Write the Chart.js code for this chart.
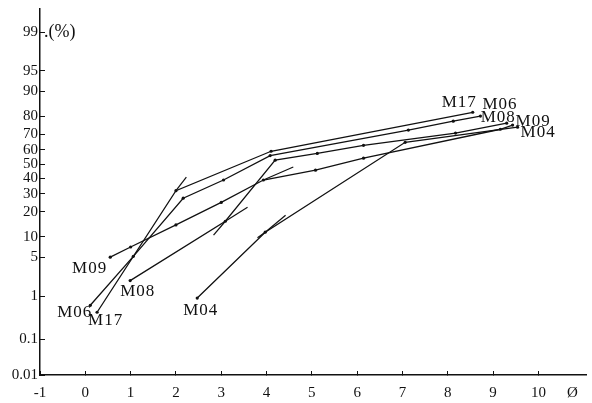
<!DOCTYPE html>
<html>
<head>
<meta charset="utf-8">
<script src="https://cdn.jsdelivr.net/npm/chart.js@4.4.1/dist/chart.umd.min.js"></script>
<style>
  html, body { margin: 0; padding: 0; background: #fff; }
  #wrap { width: 592px; height: 403px; }
</style>
</head>
<body>
<div id="wrap"><canvas id="grainChart"></canvas></div>
<script>
// valores (phi, % acumulado)
const xTicks = [-1, 0, 1, 2, 3, 4, 5, 6, 7, 8, 9, 10];
const yTicks = [0.01, 0.1, 1, 5, 10, 20, 30, 40, 50, 60, 70, 80, 90, 95, 99];

const m17Phi = [0.26, 2.0, 4.1, 8.55];
const m17Pct = [0.45, 32, 59, 82];
const m06Phi = [0.11, 1.06, 2.16, 3.05, 4.08, 7.13, 8.12, 8.72];
const m06Pct = [0.64, 5.2, 27.4, 39, 56, 72.6, 77.6, 80.2];
const m08Phi = [0.99, 3.09, 4.19, 5.12, 6.14, 8.17, 9.3];
const m08Pct = [2.0, 15.7, 52.8, 57.5, 63, 70.8, 76.5];
const m09Phi = [0.55, 1.0, 2.0, 3.0, 3.93, 5.08, 6.14, 9.16, 9.43];
const m09Pct = [5.05, 7.2, 14.2, 25, 39, 45.8, 54.2, 73.1, 75.5];
const m04Phi = [2.47, 3.97, 7.06, 9.54];
const m04Pct = [0.91, 11.5, 65, 74.3];

// prolongaciones de los tramos rectos
const extPhi = [[2.0, 2.23], [3.09, 3.58], [2.83, 3.09], [3.93, 4.59], [3.97, 4.42], [3.8, 3.97]];
const extPct = [[32, 41], [15.7, 22.4], [10.5, 15.7], [39, 48], [11.5, 18.4], [9.7, 11.5]];

const sampleNames = ["M17", "M06", "M08", "M09", "M04"];

// escala de probabilidad (probit)
function probit(pct) {
  const p = pct / 100;
  const a = [-3.969683028665376e+01, 2.209460984245205e+02, -2.759285104469687e+02, 1.383577518672690e+02, -3.066479806614716e+01, 2.506628277459239e+00];
  const b = [-5.447609879822406e+01, 1.615858368580409e+02, -1.556989798598866e+02, 6.680131188771972e+01, -1.328068155288572e+01];
  const c = [-7.784894002430293e-03, -3.223964580411365e-01, -2.400758277161838e+00, -2.549732539343734e+00, 4.374664141464968e+00, 2.938163982698783e+00];
  const d = [7.784695709041462e-03, 3.224671290700398e-01, 2.445134137142996e+00, 3.754408661907416e+00];
  const pl = 0.02425;
  let q, r;
  if (p < pl) {
    q = Math.sqrt(-2 * Math.log(p));
    return (((((c[0] * q + c[1]) * q + c[2]) * q + c[3]) * q + c[4]) * q + c[5]) / ((((d[0] * q + d[1]) * q + d[2]) * q + d[3]) * q + 1);
  }
  if (p > 1 - pl) {
    q = Math.sqrt(-2 * Math.log(1 - p));
    return -(((((c[0] * q + c[1]) * q + c[2]) * q + c[3]) * q + c[4]) * q + c[5]) / ((((d[0] * q + d[1]) * q + d[2]) * q + d[3]) * q + 1);
  }
  q = p - 0.5;
  r = q * q;
  return (((((a[0] * r + a[1]) * r + a[2]) * r + a[3]) * r + a[4]) * r + a[5]) * q / (((((b[0] * r + b[1]) * r + b[2]) * r + b[3]) * r + b[4]) * r + 1);
}

class ProbitScale extends Chart.Scale {
  determineDataLimits() {
    this.min = this.options.min;
    this.max = this.options.max;
  }
  buildTicks() {
    return yTicks.map(v => ({ value: v }));
  }
  configure() {
    super.configure();
    this._zMin = probit(this.min);
    this._zMax = probit(this.max);
  }
  getLabelForValue(v) {
    return String(v);
  }
  getPixelForValue(v) {
    return this.getPixelForDecimal((probit(v) - this._zMin) / (this._zMax - this._zMin));
  }
  getValueForPixel(px) {
    const dec = this.getDecimalForPixel(px);
    const z = this._zMin + dec * (this._zMax - this._zMin);
    let lo = 1e-6, hi = 100 - 1e-6;
    for (let i = 0; i < 50; i++) {
      const mid = (lo + hi) / 2;
      if (probit(mid) < z) lo = mid; else hi = mid;
    }
    return (lo + hi) / 2;
  }
}
ProbitScale.id = "probit";
ProbitScale.defaults = {};
Chart.register(ProbitScale);

const toPts = (xs, ys) => xs.map((x, i) => ({ x: x, y: ys[i] }));

const curves = [m17Phi, m06Phi, m08Phi, m09Phi, m04Phi];
const curvesPct = [m17Pct, m06Pct, m08Pct, m09Pct, m04Pct];

const datasets = [];
curves.forEach((xs, i) => {
  datasets.push({
    label: sampleNames[i],
    data: toPts(xs, curvesPct[i]),
    borderColor: "#111",
    borderWidth: 1.3,
    pointRadius: 1.6,
    pointBackgroundColor: "#111",
    pointBorderWidth: 0,
    tension: 0
  });
});
extPhi.forEach((xs, i) => {
  datasets.push({
    label: "ext" + i,
    data: toPts(xs, extPct[i]),
    borderColor: "#111",
    borderWidth: 1.2,
    pointRadius: 0
  });
});

// etiquetas de las muestras: [inicio dx, dy, align] y [final dx, dy, align]
const labelPos = {
  M17: [[-9, 8, "left"], [-31, -10, "left"]],
  M06: [[2, 7, "right"], [2, -12, "left"]],
  M08: [[-10, 11, "left"], [-26, -6, "left"]],
  M09: [[-3, 11, "right"], [3, -3, "left"]],
  M04: [[-14, 12, "left"], [3, 5, "left"]]
};

const textPlugin = {
  id: "textPlugin",
  afterDraw(chart) {
    const ctx = chart.ctx;
    const xs = chart.scales.x, ys = chart.scales.y;
    ctx.save();
    ctx.fillStyle = "#111";
    ctx.font = "17px 'Liberation Serif'";
    ctx.letterSpacing = "1px";
    ctx.textBaseline = "middle";
    sampleNames.forEach((name, i) => {
      const meta = chart.getDatasetMeta(i);
      const first = meta.data[0], last = meta.data[meta.data.length - 1];
      const [s, e] = labelPos[name];
      ctx.textAlign = s[2];
      ctx.fillText(name, first.x + s[0], first.y + s[1]);
      ctx.textAlign = e[2];
      ctx.fillText(name, last.x + e[0], last.y + e[1]);
    });
    ctx.textAlign = "left";
    ctx.letterSpacing = "0px";
    ctx.font = "18px 'Liberation Serif'";
    ctx.fillText(".(%)", xs.left + 4, ys.getPixelForValue(99));
    ctx.restore();
  }
};

new Chart(document.getElementById("grainChart"), {
  type: "line",
  data: { datasets: datasets },
  options: {
    responsive: true,
    maintainAspectRatio: false,
    animation: false,
    events: [],
    layout: { padding: { left: 0, top: 9, right: 6, bottom: 0 } },
    plugins: { legend: { display: false }, tooltip: { enabled: false } },
    scales: {
      x: {
        type: "linear",
        min: -1,
        max: 11.05,
        afterBuildTicks: (scale) => {
          scale.ticks = xTicks.concat([10.75]).map(v => ({ value: v }));
        },
        afterFit: (scale) => { scale.height = 28; },
        border: { display: true, color: "#111", width: 1.5 },
        grid: {
          drawOnChartArea: false,
          drawTicks: true,
          tickLength: -4,
          lineWidth: 1,
          color: (c) => (c.tick && c.tick.value > 10.5 ? "rgba(0,0,0,0)" : "#111")
        },
        ticks: {
          autoSkip: false,
          maxRotation: 0,
          padding: 13,
          color: "#111",
          font: { family: "'Liberation Serif'", size: 15 },
          callback: (v) => (v > 10.5 ? "Ø" : v)
        }
      },
      y: {
        type: "probit",
        position: "left",
        min: 0.01,
        max: 99.69,
        afterFit: (scale) => {
          scale.width = 40;
          scale.paddingTop = 0;
          scale.paddingBottom = 0;
        },
        border: { display: true, color: "#111", width: 1.5 },
        grid: { drawOnChartArea: false, drawTicks: true, tickLength: -5, color: "#111", lineWidth: 1 },
        ticks: {
          autoSkip: false,
          padding: 7,
          color: "#111",
          font: { family: "'Liberation Serif'", size: 15 },
          callback: (v) => String(v)
        }
      }
    }
  },
  plugins: [textPlugin]
});
</script>
</body>
</html>
